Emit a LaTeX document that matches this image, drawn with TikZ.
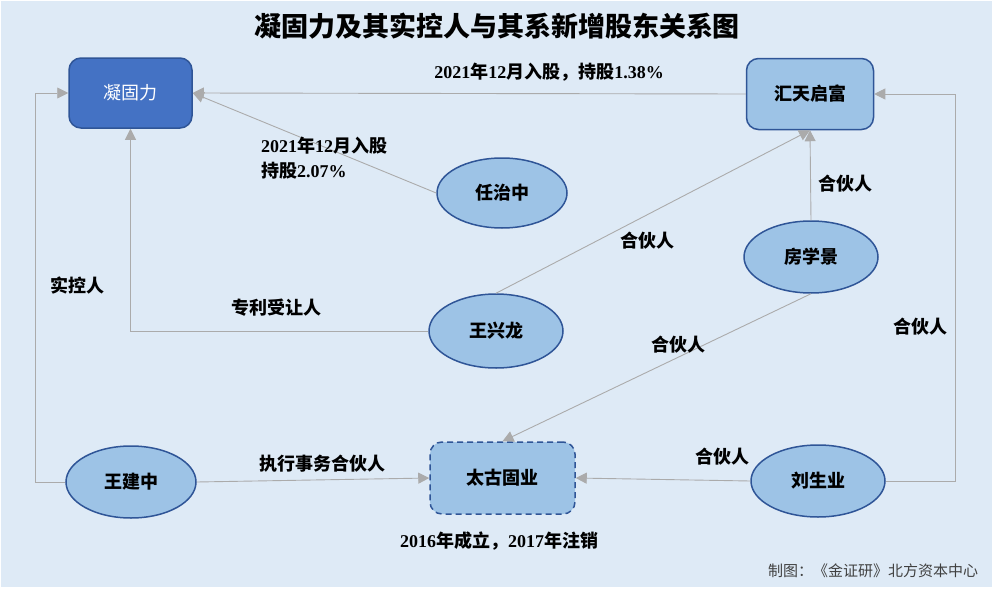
\documentclass[tikz,border=0pt]{standalone}
\usepackage{fontspec}
\setmainfont{Noto Sans CJK SC}
\newfontfamily\lat{Liberation Serif}
\usetikzlibrary{arrows.meta,shapes.geometric}
\definecolor{bgblue}{HTML}{DEEAF6}
\definecolor{fillblue}{HTML}{9DC3E6}
\definecolor{darkblue}{HTML}{4472C4}
\definecolor{edgeblue}{HTML}{2F5597}
\definecolor{linegray}{HTML}{ABABAB}
\tikzset{
  boxnode/.style={draw=edgeblue, fill=fillblue, line width=1.5pt, rounded corners=12pt,
    minimum width=127pt, minimum height=71pt, inner sep=0pt, font=\fontsize{18}{20}\selectfont\bfseries},
  ovalnode/.style={ellipse, draw=edgeblue, fill=fillblue, line width=1.5pt,
    minimum width=132pt, minimum height=72pt, inner sep=0pt, font=\fontsize{18}{20}\selectfont\bfseries},
  conn/.style={draw=linegray, line width=0.9pt, -{Triangle[length=11pt,width=11pt]}},
  lab/.style={font=\fontsize{18}{25}\selectfont\bfseries, inner sep=0pt, align=left},
}
\begin{document}
\begin{tikzpicture}[x=1pt, y=-1pt, >=Stealth]
   \useasboundingbox (0, 0) rectangle (994, 589);
   \fill[white] (0, 0) rectangle (994, 589);
   \fill[bgblue] (1, 1) rectangle (992, 587);

   \node[font=\fontsize{27}{30}\selectfont\bfseries, inner sep=0pt] (title) at (497, 26) {凝固力及其实控人与其系新增股东关系图};

   % companies
   \node[boxnode, fill=darkblue, text=white, font=\fontsize{18}{20}\selectfont, minimum width=123pt, minimum height=70pt] (ningguli) at (130.5, 93) {凝固力};
   \node[boxnode] (huitian) at (810, 94) {汇天启富};
   \node[boxnode, dash pattern=on 6pt off 4pt, minimum width=145pt, minimum height=72pt] (taigu) at (502.5, 478) {太古固业};

   % people
   \node[ovalnode, minimum width=130pt, minimum height=70pt] (renzhi) at (502, 193) {任治中};
   \node[ovalnode, minimum width=134pt, minimum height=74pt] (wangxl) at (496, 331) {王兴龙};
   \node[ovalnode, minimum width=134pt] (fang) at (811, 257) {房学景};
   \node[ovalnode, minimum width=130pt] (wangjz) at (131, 482) {王建中};
   \node[ovalnode, minimum width=134pt] (liusy) at (818, 481) {刘生业};

   % connectors
   \draw[conn] (huitian.west) -- (ningguli.east);
   \draw[conn] (renzhi.west) -- (ningguli.east);
   \draw[conn] (wangxl.west) -| (ningguli.south);
   \draw[conn] (wangjz.west) -- ++(-30, 0) |- (ningguli.west);
   \draw[conn] (wangxl.north) -- (huitian.south);
   \draw[conn] (fang.north) -- (huitian.south);
   \draw[conn] (liusy.east) -- ++(70, 0) |- (huitian.east);
   \draw[conn] (fang.south) -- (taigu.north);
   \draw[conn] (wangjz.east) -- (taigu.west);
   \draw[conn] (liusy.west) -- (taigu.east);

   % labels
   \node[lab] (rugu1) at (549, 72) {{\lat 2021}年{\lat 12}月入股，持股{\lat 1.38\%}};
   \node[lab, anchor=north west] (rugu2) at (261, 137) {{\lat 2021}年{\lat 12}月入股\\持股{\lat 2.07\%}};
   \node[lab] (hehuo1) at (845, 184) {合伙人};
   \node[lab] (hehuo2) at (647, 241) {合伙人};
   \node[lab] (hehuo3) at (678, 345) {合伙人};
   \node[lab] (hehuo4) at (920, 327) {合伙人};
   \node[lab] (hehuo5) at (722, 457) {合伙人};
   \node[lab] (shikong) at (77, 286) {实控人};
   \node[lab] (zhuanli) at (276, 308) {专利受让人};
   \node[lab] (zhixing) at (322, 464) {执行事务合伙人};
   \node[lab] (chengli) at (499, 541) {{\lat 2016}年成立，{\lat 2017}年注销};
   \node[font=\fontsize{15}{16}\selectfont, text=black!75, inner sep=0pt] (credit) at (873, 571) {制图：《金证研》北方资本中心};
\end{tikzpicture}
\end{document}
